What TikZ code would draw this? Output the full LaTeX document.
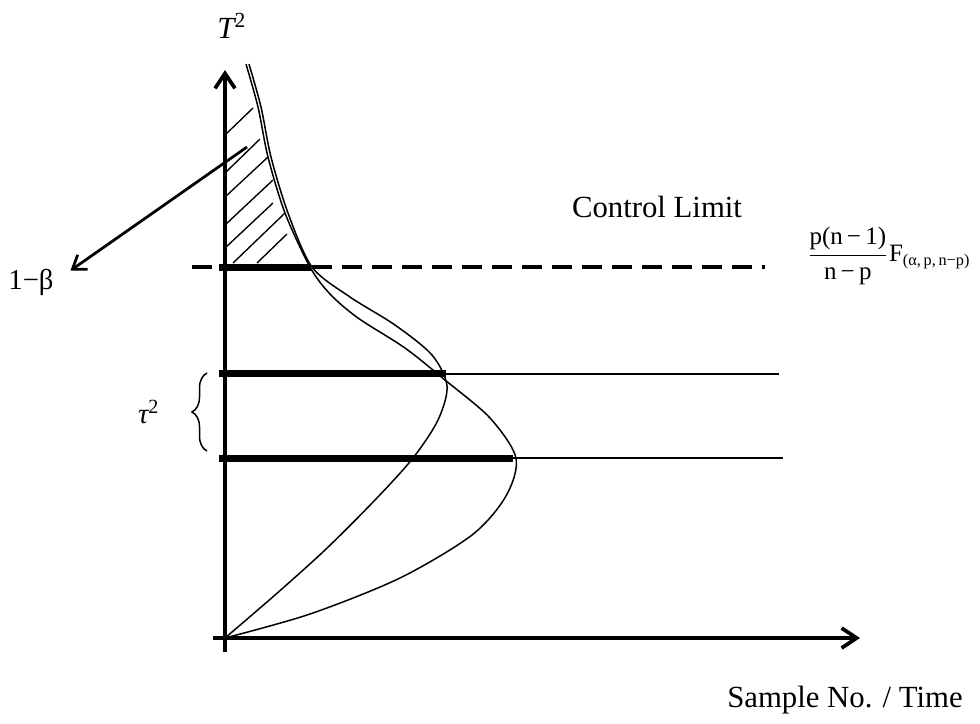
\documentclass[tikz,border=0pt]{standalone}
\usepackage{fontspec}
\setmainfont{Liberation Serif}
\usetikzlibrary{arrows.meta,decorations.pathreplacing}

\tikzset{
  axis/.style={line width=1.5pt, -{Straight Barb[length=6pt,width=8pt]}},
  limitline/.style={line width=1.3pt, dash pattern=on 8pt off 4pt},
  thickbar/.style={line width=2.8pt},
  level/.style={line width=0.7pt},
  curve/.style={line width=0.6pt},
  hatch/.style={line width=0.55pt},
  lbl/.style={font=\fontsize{12.3}{14}\selectfont, inner sep=0pt},
}

\begin{document}
\begin{tikzpicture}[x=0.4pt, y=-0.4pt]
\useasboundingbox (0,0) rectangle (980,723);

% axes
\draw[axis] (225,652) -- (225,70);
\draw[axis] (213,638) -- (860,638);
\node[lbl] (ylab) at (232,26) {\itshape T\textsuperscript{\upshape 2}};
\node[lbl] (xlab) at (845,700) {Sample No. / Time};

% control limit
\draw[limitline] (192,267) -- (765,267);
\node[lbl] (cl) at (657,207) {Control Limit};
\node[anchor=west, inner sep=0pt, font=\fontsize{10}{12}\selectfont] (clform) at (806,256)
  {$\displaystyle\frac{\hbox{p(n\,−\,1)}}{\hbox{n\,−\,p}}\hbox{F}_{\hbox{\fontsize{6.5}{8}\selectfont(α,\,p,\,n−p)}}$};

% levels
\draw[thickbar] (219,267) -- (311,267);
\draw[thickbar] (219,373) -- (446,373);
\draw[thickbar] (219,458) -- (513,458);
\draw[level] (446,374) -- (779,374);
\draw[level] (513,458) -- (783,458);

% distributions
\draw[curve] plot[smooth] coordinates {(246,64) (258,107) (268,157) (285,213) (310,267)
  (330,294) (358,318) (405,348) (445,380) (490,418) (516,458) (506,496) (472,535)
  (400,578) (310,614) (225,638)};
\draw[curve] plot[smooth] coordinates {(249,64) (261,107) (271,157) (288,213) (312,267)
  (350,297) (395,325) (432,355) (447,386) (438,420) (413,458) (375,500) (325,550)
  (275,595) (225,638)};

% shaded tail
\foreach \a/\b/\c/\d in {225/135/253/108, 225/173/260/139, 225/197/268/157,
  225/225/273/180, 225/248/273/203, 233/263/285/213, 257/263/287/234}
  \draw[hatch] (\a,\b) -- (\c,\d);

\node[lbl, font=\fontsize{11.5}{13}\selectfont] (beta) at (31,282) {1−β};
\coordinate (bstart) at (247,147);
\draw[line width=1.1pt, -{Straight Barb[length=5pt,width=7pt]}, shorten >=8pt] (bstart) -- (beta.east);

% shift
\draw[line width=0.6pt, decorate, decoration={brace, amplitude=6pt}] (207,451) -- (207,373);
\node[lbl, font=\fontsize{11.5}{13}\selectfont] (tau) at (149,412) {\itshape τ\textsuperscript{\upshape 2}};
\end{tikzpicture}
\end{document}
